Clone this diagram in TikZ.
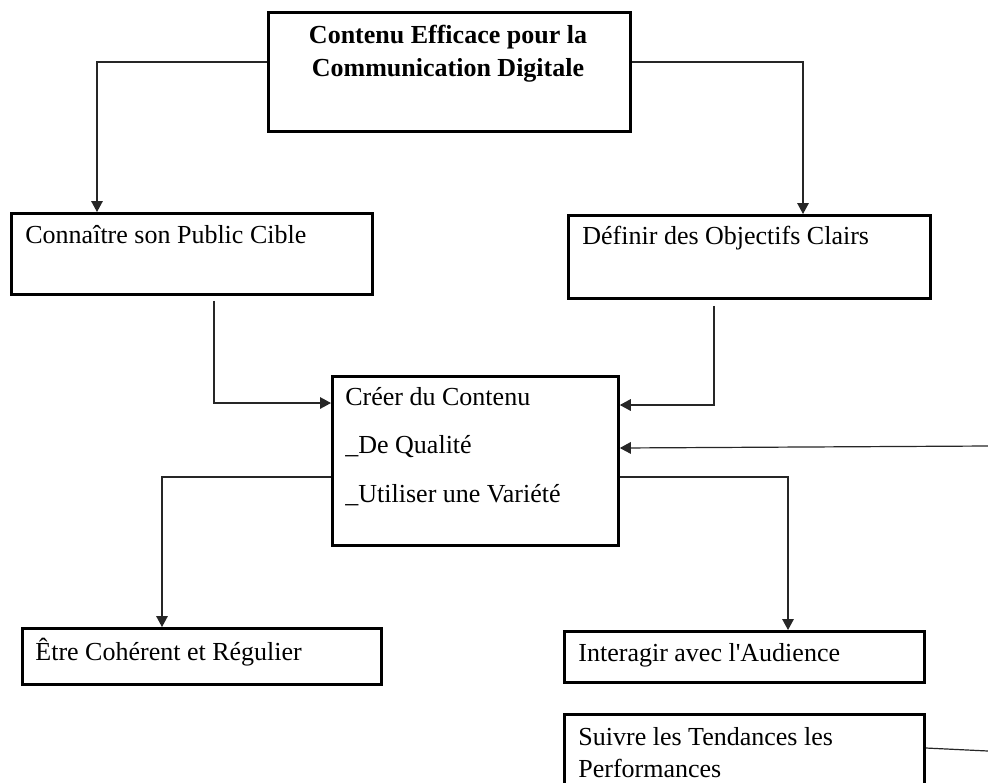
\documentclass[tikz,border=0pt]{standalone}
\usepackage{fontspec}
\setmainfont{Liberation Serif}
\usetikzlibrary{arrows.meta}
\begin{document}
\begin{tikzpicture}[x=0.5pt,y=-0.5pt,
  box/.style 2 args={draw=black, line width=1.4pt, rectangle, inner sep=0pt,
    anchor=north west, minimum width=#1*0.5pt, minimum height=#2*0.5pt},
  lbl/.style={anchor=base west, inner sep=0pt, font=\fontsize{13}{16.5}\selectfont},
  ttl/.style={anchor=base, inner sep=0pt, font=\fontsize{13}{16.5}\selectfont\bfseries},
  conn/.style={draw=black!85, line width=0.6pt},
  arr/.style={conn, -{Triangle[length=5.5pt,width=5.8pt]}}
]
\useasboundingbox (0,0) rectangle (988,782);
\clip (0,0) rectangle (988,782);
\fill[white] (0,0) rectangle (988,782);

% boxes and their texts
\node[box={362}{119}] (top) at (267,11) {};
\node[ttl] (t1) at (448,43) {Contenu Efficace pour la};
\node[ttl] (t2) at (448,76) {Communication Digitale};

\node[box={361}{81}] (cible) at (10,212) {};
\node[lbl] (cibleT) at (25,243) {Connaître son Public Cible};

\node[box={362}{83}] (obj) at (567,214) {};
\node[lbl] (objT) at (582,244) {Définir des Objectifs Clairs};

\node[box={286}{169}] (cont) at (331,375) {};
\node[lbl] (c1) at (345,405) {Créer du Contenu};
\node[lbl] (c2) at (345,453) {\_De Qualité};
\node[lbl] (c3) at (345,502) {\_Utiliser une Variété};

\node[box={359}{56}] (reg) at (21,627) {};
\node[lbl] (regT) at (35,660) {Être Cohérent et Régulier};

\node[box={360}{51}] (aud) at (563,630) {};
\node[lbl] (audT) at (578,661) {Interagir avec l\textquotesingle Audience};

\node[box={360}{100}] (tend) at (563,713) {};
\node[lbl] (tendT1) at (578,745) {Suivre les Tendances les};
\node[lbl] (tendT2) at (578,777) {Performances};

% connectors
\draw[arr] (top.west |- 0,62) -| (cible.north -| 97,0);
\draw[arr] (top.east |- 0,62) -| (obj.north -| 803,0);
\draw[arr] (cible.south -| 214,0) ++(0,5) |- (cont.west |- 0,403);
\draw[arr] (obj.south -| 714,0) ++(0,6) |- (cont.east |- 0,405);
\coordinate (inR) at (988,446);
\draw[arr] (inR) -- (cont.east |- 0,448);
\draw[arr] (cont.west |- 0,477) -| (reg.north -| 162,0);
\draw[arr] (cont.east |- 0,477) -| (aud.north -| 788,0);
\coordinate (outR) at (988,751);
\draw[conn] (tend.east |- 0,748) -- (outR);
\end{tikzpicture}
\end{document}
